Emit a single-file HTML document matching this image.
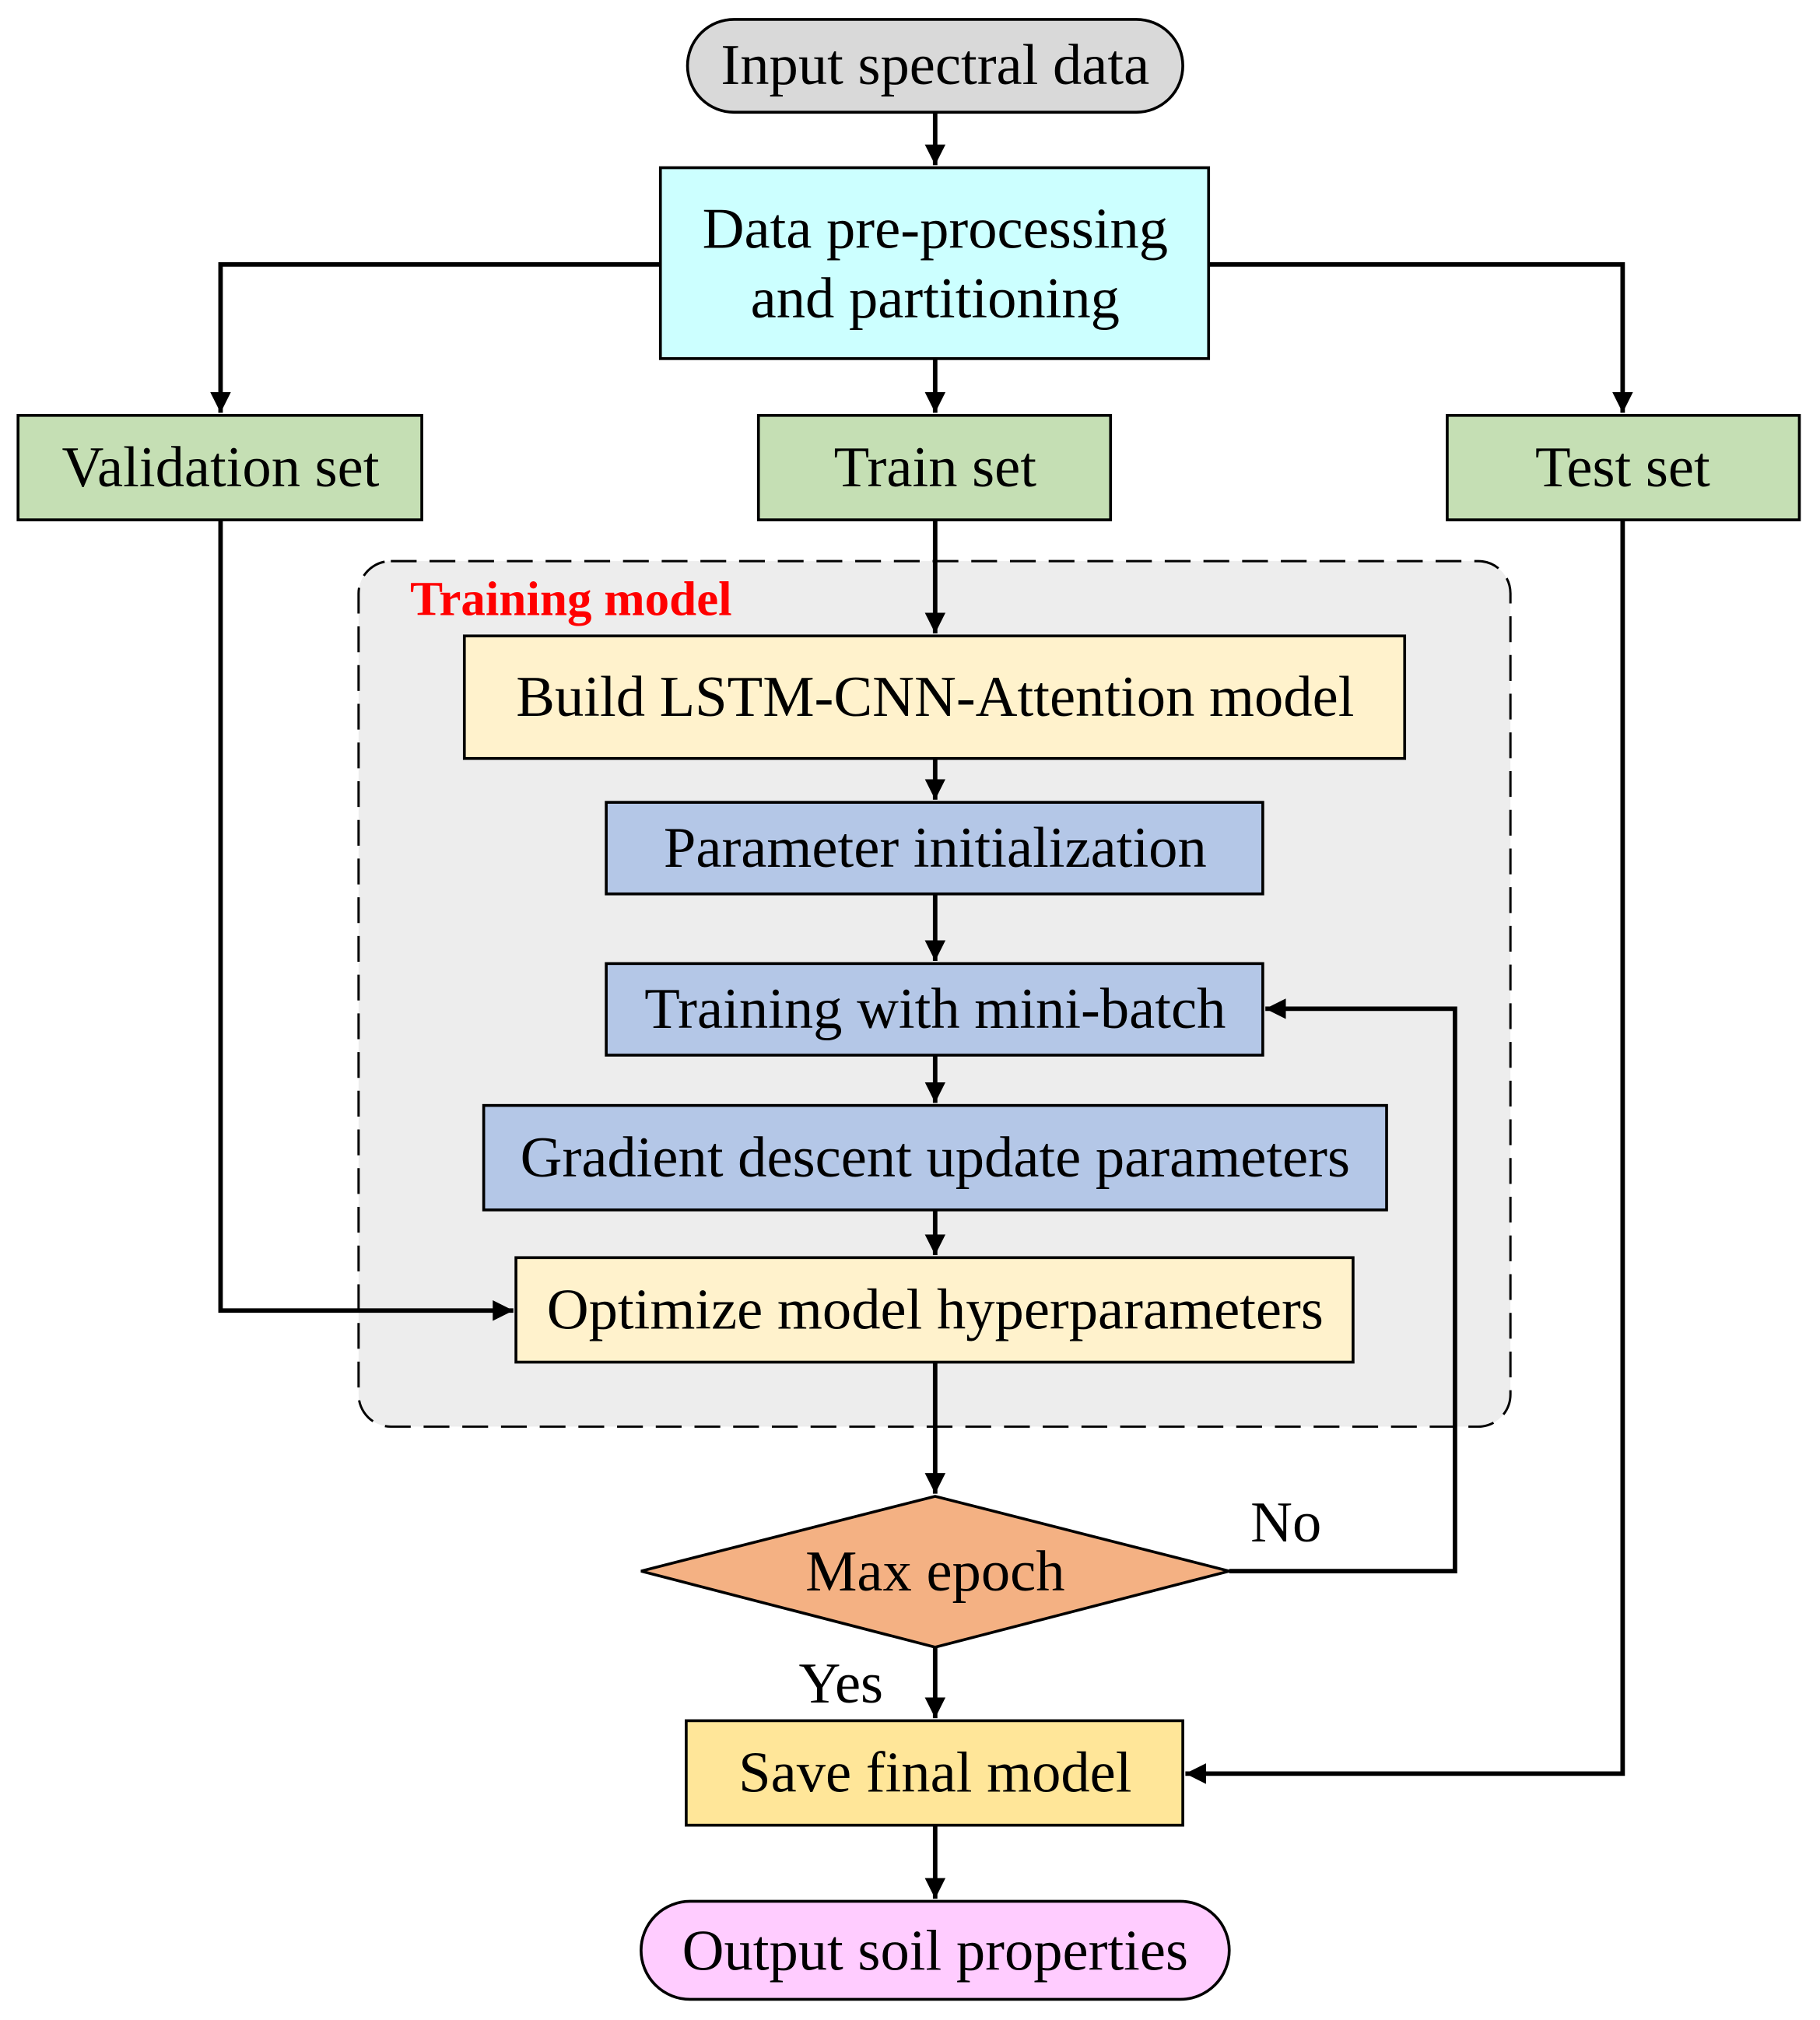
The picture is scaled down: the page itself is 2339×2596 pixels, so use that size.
<!DOCTYPE html>
<html><head><meta charset="utf-8"><style>html,body{margin:0;padding:0;background:#fff}svg{display:block}</style></head>
<body>
<svg width="2339" height="2596" viewBox="0 0 1411 1566" xmlns="http://www.w3.org/2000/svg" font-family="'Liberation Serif', serif">
<defs>
<marker id="b" markerWidth="16" markerHeight="24" refX="16" refY="12" orient="auto" markerUnits="userSpaceOnUse" viewBox="0 0 16 24"><path d="M0,4 L16,12 L0,20 z" fill="#000"/></marker></defs>
<g stroke="#000" stroke-width="2.2">
<rect x="278" y="435" width="893" height="671" rx="25" fill="#ededed" stroke-dasharray="20,10" stroke-width="1.8"/>
<rect x="533" y="15" width="384" height="72" rx="36" fill="#d9d9d9"/>
<rect x="512" y="130" width="425" height="148" fill="#ccffff"/>
<rect x="14" y="322" width="313" height="81" fill="#c5dfb4"/>
<rect x="588" y="322" width="273" height="81" fill="#c5dfb4"/>
<rect x="1122" y="322" width="273" height="81" fill="#c5dfb4"/>
<rect x="360" y="493" width="729" height="95" fill="#fff2cc"/>
<rect x="470" y="622" width="509" height="71" fill="#b4c7e7"/>
<rect x="470" y="747" width="509" height="71" fill="#b4c7e7"/>
<rect x="375" y="857" width="700" height="81" fill="#b4c7e7"/>
<rect x="400" y="975" width="649" height="81" fill="#fff2cc"/>
<path d="M497,1218 L725,1160 L953,1218 L725,1277 z" fill="#f4b183"/>
<rect x="532" y="1334" width="385" height="81" fill="#ffe699"/>
<rect x="497" y="1474" width="456" height="76" rx="38" fill="#ffccff"/>
<g fill="none" stroke-width="3.5">
<path d="M725,87 V128" marker-end="url(#b)"/>
<path d="M512,205 H171 V320" marker-end="url(#b)"/>
<path d="M937,205 H1258 V320" marker-end="url(#b)"/>
<path d="M725,278 V320" marker-end="url(#b)"/>
<path d="M725,403 V491" marker-end="url(#b)"/>
<path d="M725,588 V620" marker-end="url(#b)"/>
<path d="M725,693 V745" marker-end="url(#b)"/>
<path d="M725,818 V855" marker-end="url(#b)"/>
<path d="M725,938 V973" marker-end="url(#b)"/>
<path d="M171,403 V1016 H398" marker-end="url(#b)"/>
<path d="M725,1056 V1158" marker-end="url(#b)"/>
<path d="M953,1218 H1128 V782 H981" marker-end="url(#b)"/>
<path d="M725,1277 V1332" marker-end="url(#b)"/>
<path d="M1258,403 V1375 H919" marker-end="url(#b)"/>
<path d="M725,1415 V1472" marker-end="url(#b)"/>
</g></g>
<g font-size="45" text-anchor="middle" fill="#000">
<text x="725" y="65">Input spectral data</text>
<text x="725" y="192">Data pre-processing</text>
<text x="725" y="246">and partitioning</text>
<text x="171" y="377">Validation set</text>
<text x="725" y="377">Train set</text>
<text x="1258" y="377">Test set</text>
<text x="725" y="555">Build LSTM-CNN-Attention model</text>
<text x="725" y="672">Parameter initialization</text>
<text x="725" y="797">Training with mini-batch</text>
<text x="725" y="912">Gradient descent update parameters</text>
<text x="725" y="1030">Optimize model hyperparameters</text>
<text x="725" y="1233">Max epoch</text>
<text x="725" y="1389">Save final model</text>
<text x="725" y="1527">Output soil properties</text>
<text x="997" y="1195">No</text>
<text x="652" y="1320">Yes</text>
</g>
<text x="318" y="477" font-size="38" font-weight="bold" fill="#ff0000">Training model</text>
</svg>
</body></html>
